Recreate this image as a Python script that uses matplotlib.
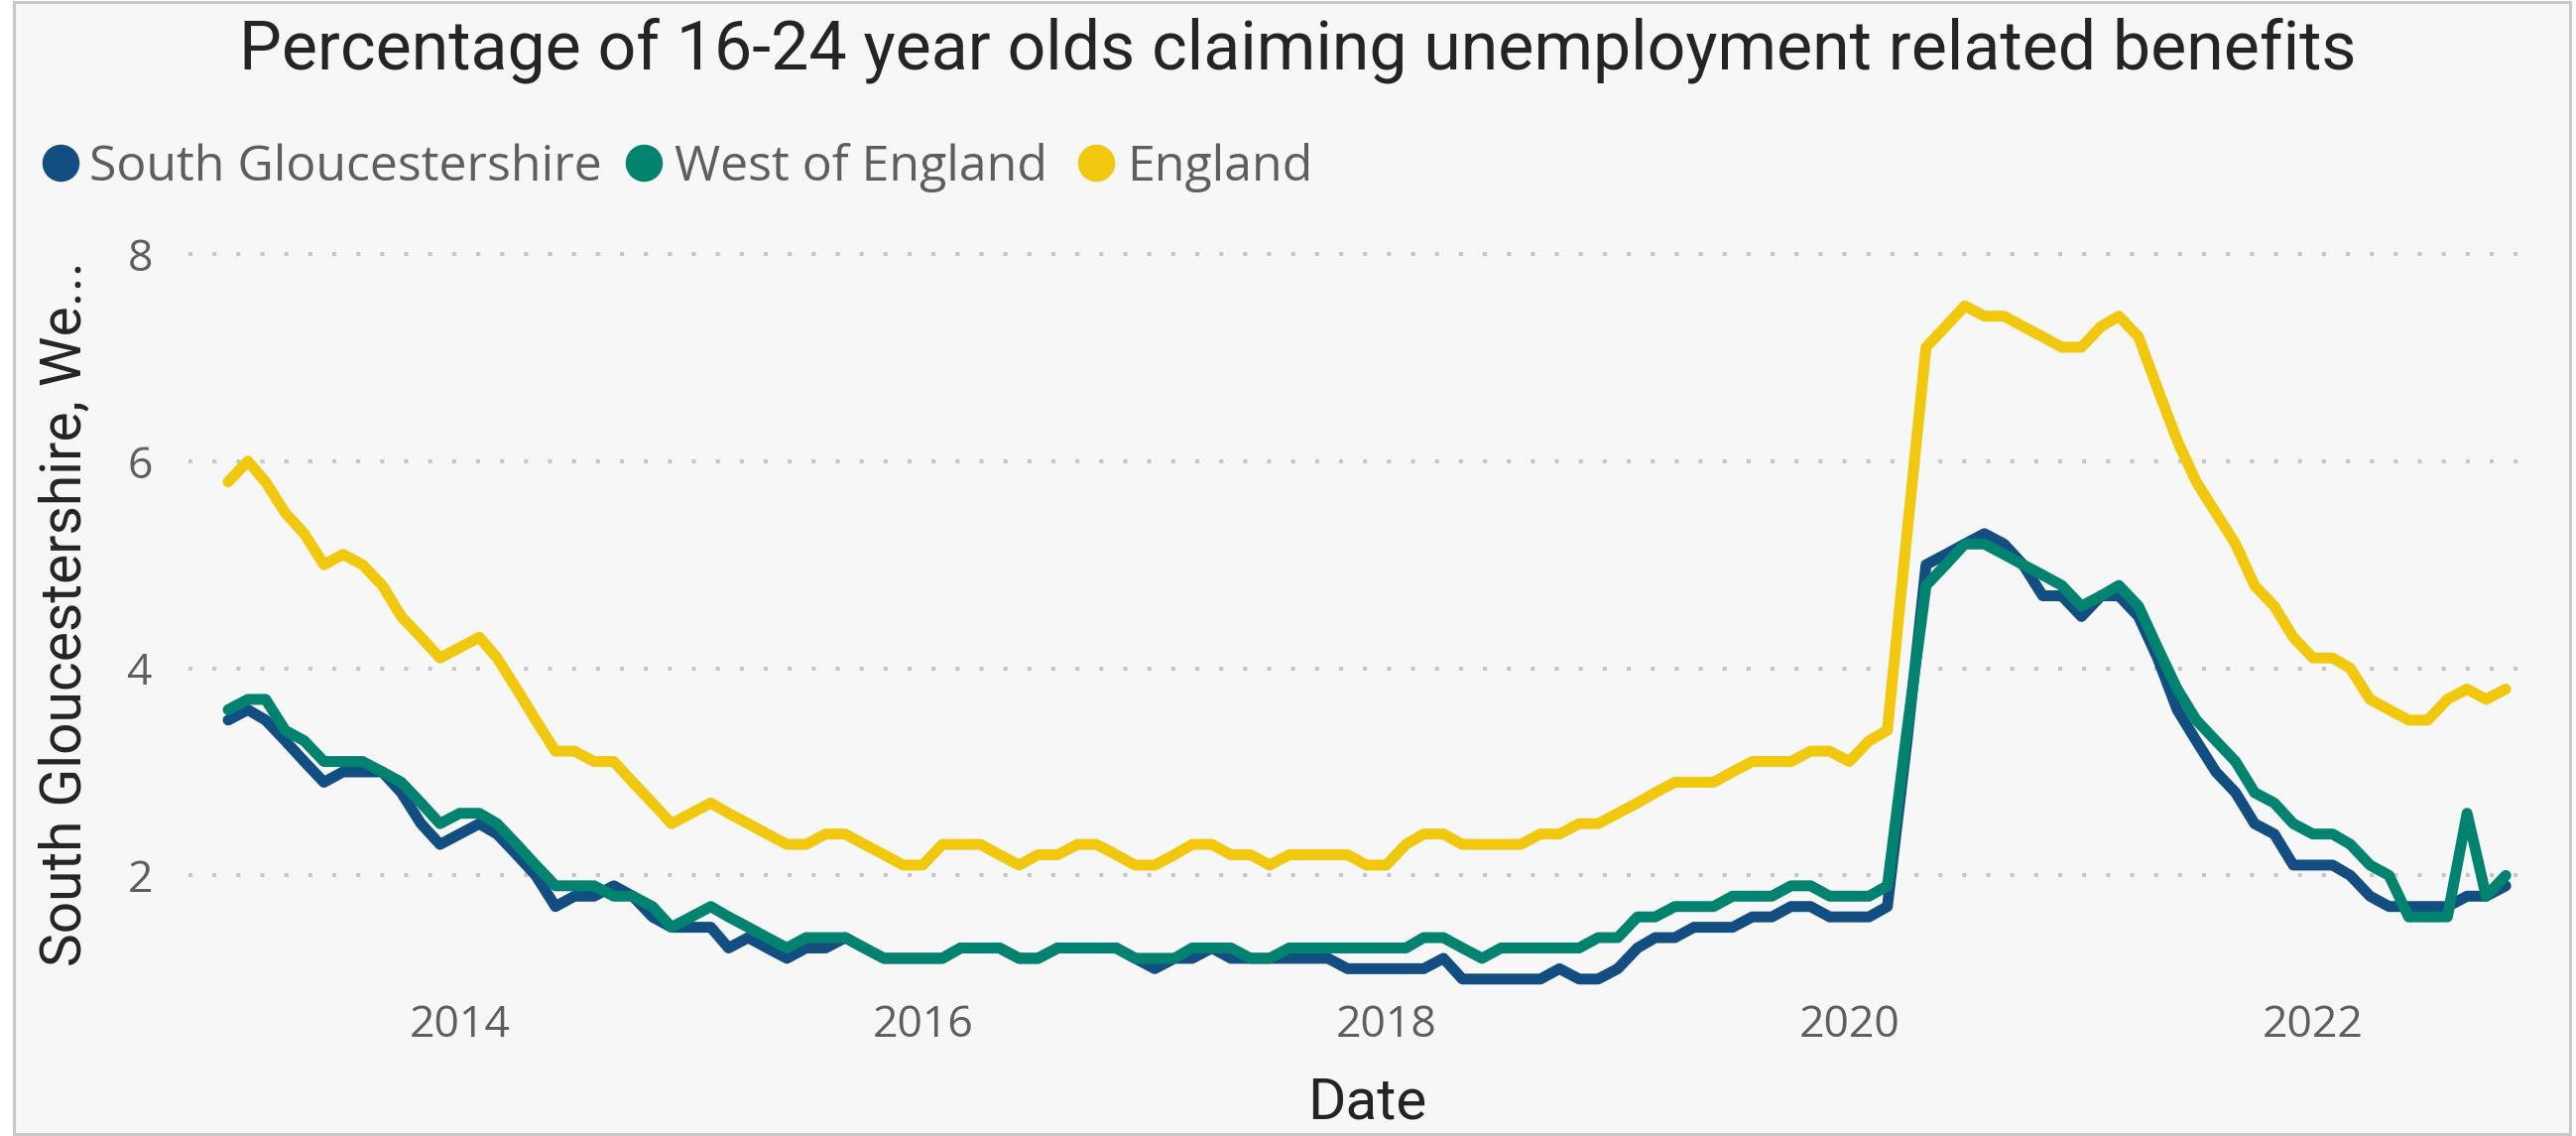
import matplotlib
matplotlib.use("Agg")
import matplotlib.pyplot as plt
import matplotlib.dates as mdates
from matplotlib.patches import Rectangle
from matplotlib.lines import Line2D
import pandas as pd
import numpy as np

W, H = 2597, 1145

dates = pd.date_range("2013-01-01", periods=119, freq="MS")

south_glos = [3.5, 3.6, 3.5, 3.3, 3.1, 2.9, 3.0, 3.0, 3.0, 2.8, 2.5, 2.3, 2.4, 2.5, 2.4, 2.2, 2.0, 1.7, 1.8, 1.8,
              1.9, 1.8, 1.6, 1.5, 1.5, 1.5, 1.3, 1.4, 1.3, 1.2, 1.3, 1.3, 1.4, 1.3, 1.2, 1.2, 1.2, 1.2, 1.3, 1.3,
              1.3, 1.2, 1.2, 1.3, 1.3, 1.3, 1.3, 1.2, 1.1, 1.2, 1.2, 1.3, 1.2, 1.2, 1.2, 1.2, 1.2, 1.2, 1.1, 1.1,
              1.1, 1.1, 1.1, 1.2, 1.0, 1.0, 1.0, 1.0, 1.0, 1.1, 1.0, 1.0, 1.1, 1.3, 1.4, 1.4, 1.5, 1.5, 1.5, 1.6,
              1.6, 1.7, 1.7, 1.6, 1.6, 1.6, 1.7, 3.3, 5.0, 5.1, 5.2, 5.3, 5.2, 5.0, 4.7, 4.7, 4.5, 4.7, 4.7, 4.5,
              4.1, 3.6, 3.3, 3.0, 2.8, 2.5, 2.4, 2.1, 2.1, 2.1, 2.0, 1.8, 1.7, 1.7, 1.7, 1.7, 1.8, 1.8, 1.9]

west_of_england = [3.6, 3.7, 3.7, 3.4, 3.3, 3.1, 3.1, 3.1, 3.0, 2.9, 2.7, 2.5, 2.6, 2.6, 2.5, 2.3, 2.1, 1.9, 1.9, 1.9,
                   1.8, 1.8, 1.7, 1.5, 1.6, 1.7, 1.6, 1.5, 1.4, 1.3, 1.4, 1.4, 1.4, 1.3, 1.2, 1.2, 1.2, 1.2, 1.3, 1.3,
                   1.3, 1.2, 1.2, 1.3, 1.3, 1.3, 1.3, 1.2, 1.2, 1.2, 1.3, 1.3, 1.3, 1.2, 1.2, 1.3, 1.3, 1.3, 1.3, 1.3,
                   1.3, 1.3, 1.4, 1.4, 1.3, 1.2, 1.3, 1.3, 1.3, 1.3, 1.3, 1.4, 1.4, 1.6, 1.6, 1.7, 1.7, 1.7, 1.8, 1.8,
                   1.8, 1.9, 1.9, 1.8, 1.8, 1.8, 1.9, 3.4, 4.8, 5.0, 5.2, 5.2, 5.1, 5.0, 4.9, 4.8, 4.6, 4.7, 4.8, 4.6,
                   4.2, 3.8, 3.5, 3.3, 3.1, 2.8, 2.7, 2.5, 2.4, 2.4, 2.3, 2.1, 2.0, 1.6, 1.6, 1.6, 2.6, 1.8, 2.0]

england = [5.8, 6.0, 5.8, 5.5, 5.3, 5.0, 5.1, 5.0, 4.8, 4.5, 4.3, 4.1, 4.2, 4.3, 4.1, 3.8, 3.5, 3.2, 3.2, 3.1,
           3.1, 2.9, 2.7, 2.5, 2.6, 2.7, 2.6, 2.5, 2.4, 2.3, 2.3, 2.4, 2.4, 2.3, 2.2, 2.1, 2.1, 2.3, 2.3, 2.3,
           2.2, 2.1, 2.2, 2.2, 2.3, 2.3, 2.2, 2.1, 2.1, 2.2, 2.3, 2.3, 2.2, 2.2, 2.1, 2.2, 2.2, 2.2, 2.2, 2.1,
           2.1, 2.3, 2.4, 2.4, 2.3, 2.3, 2.3, 2.3, 2.4, 2.4, 2.5, 2.5, 2.6, 2.7, 2.8, 2.9, 2.9, 2.9, 3.0, 3.1,
           3.1, 3.1, 3.2, 3.2, 3.1, 3.3, 3.4, 5.3, 7.1, 7.3, 7.5, 7.4, 7.4, 7.3, 7.2, 7.1, 7.1, 7.3, 7.4, 7.2,
           6.7, 6.2, 5.8, 5.5, 5.2, 4.8, 4.6, 4.3, 4.1, 4.1, 4.0, 3.7, 3.6, 3.5, 3.5, 3.7, 3.8, 3.7, 3.8]

series_names = ["South Gloucestershire", "West of England", "England"]
series_values = [south_glos, west_of_england, england]
series_colors = ["#124E82", "#01836F", "#F2C80F"]

y_ticks = [2, 4, 6, 8]
x_tick_years = [2014, 2016, 2018, 2020, 2022]

title_text = "Percentage of 16-24 year olds claiming unemployment related benefits"
x_title = "Date"
y_title = "South Gloucestershire, We..."

BG = "#F7F7F7"
DIN = ["Roboto", "DejaVu Sans"]
SEGOE = ["Open Sans", "DejaVu Sans"]

def fx(px):
    return px / W

def fy(py):
    return 1 - py / H

fig = plt.figure(figsize=(W / 100, H / 100), dpi=100, facecolor="white")
# panel background and border
fig.add_artist(Rectangle((fx(14), fy(1143)), fx(2591) - fx(14), fy(2) - fy(1143),
                         transform=fig.transFigure, facecolor=BG, edgecolor="#C8C8C8",
                         linewidth=2.2, zorder=0))

ax_left, ax_right, ax_top, ax_bottom = 190, 2546, 240, 1000
ax = fig.add_axes([fx(ax_left), fy(ax_bottom), fx(ax_right) - fx(ax_left), fy(ax_top) - fy(ax_bottom)])
ax.set_facecolor(BG)
ax.patch.set_alpha(0)

for name, vals, col, z in zip(series_names, series_values, series_colors, [3, 4, 5]):
    ax.plot(dates, vals, color=col, linewidth=7.9, solid_joinstyle="round",
            solid_capstyle="round", zorder=z, label=name)

# y range from gridline calibration
px_per_unit = 104.4
y8 = 256.0
ymax = 8 + (y8 - ax_top) / px_per_unit
ymin = 8 - (ax_bottom - y8) / px_per_unit
ax.set_ylim(ymin, ymax)

x0 = mdates.date2num(pd.Timestamp("2013-01-01")) - 62.6
x1 = mdates.date2num(pd.Timestamp("2022-11-01")) + 31.0
ax.set_xlim(x0, x1)

ax.set_yticks(y_ticks)
ax.set_yticklabels([str(t) for t in y_ticks])
ax.set_xticks([mdates.date2num(pd.Timestamp(f"{y}-01-01")) for y in x_tick_years])
ax.set_xticklabels([str(y) for y in x_tick_years])

ax.grid(axis="y", color="#C8C6C4", linewidth=2.9, linestyle=(0, (1, 5)), dash_capstyle="butt")
ax.grid(axis="x", visible=False)
ax.set_axisbelow(True)
for s in ax.spines.values():
    s.set_visible(False)
ax.tick_params(axis="both", length=0, labelcolor="#605E5C", labelsize=32)
ax.tick_params(axis="y", pad=26)
ax.tick_params(axis="x", pad=8)
for lab in ax.get_xticklabels() + ax.get_yticklabels():
    lab.set_family(SEGOE)

# title
fig.text(fx(1308), fy(70), title_text, ha="center", va="baseline", fontsize=49,
         color="#252423", family=DIN)

# legend
leg_marker_x = [61, 649, 1105]
leg_text_x = [90, 680, 1136]
for mx, tx, name, col in zip(leg_marker_x, leg_text_x, series_names, series_colors):
    fig.add_artist(Line2D([fx(mx)], [fy(164)], marker="o", markersize=27, color=col,
                          markeredgewidth=0, transform=fig.transFigure, linestyle="none"))
    fig.text(fx(tx), fy(182), name, ha="left", va="baseline", fontsize=36,
             color="#605E5C", family=SEGOE)

# axis titles
fig.text(fx(1378), fy(1127), x_title, ha="center", va="baseline", fontsize=42,
         color="#252423", family=DIN)
fig.text(fx(66), fy(619), y_title, ha="center", va="center", rotation=90, fontsize=41,
         color="#252423", family=DIN)

fig.savefig("out.png", dpi=100, facecolor="white")
